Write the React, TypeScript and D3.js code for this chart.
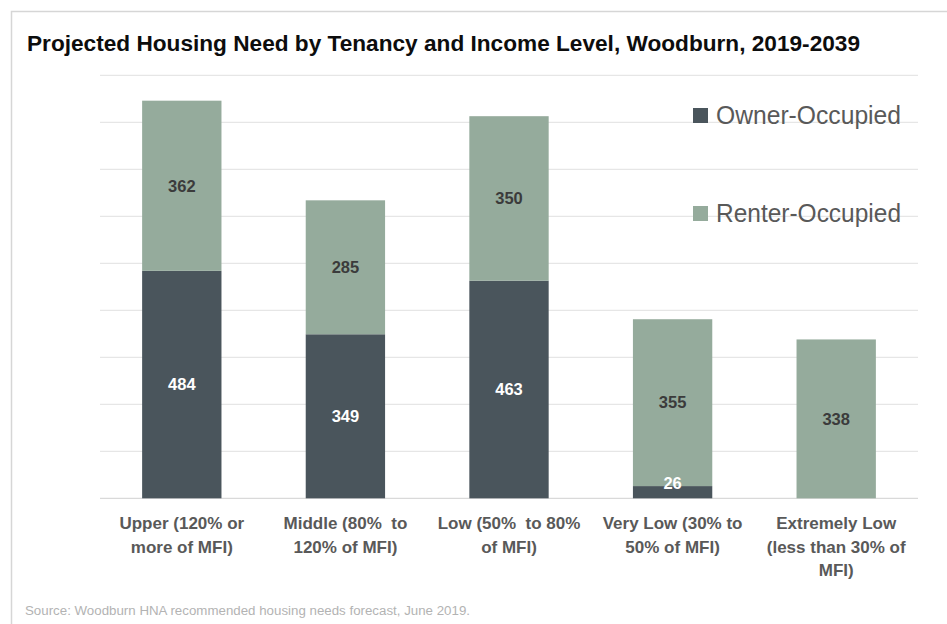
import React from "react";
import * as d3 from "d3";

const categories: string[][] = [
  ["Upper (120% or", "more of MFI)"],
  ["Middle (80%  to", "120% of MFI)"],
  ["Low (50%  to 80%", "of MFI)"],
  ["Very Low (30% to", "50% of MFI)"],
  ["Extremely Low", "(less than 30% of", "MFI)"],
];
const ownerValues = [484, 349, 463, 26, 0];
const renterValues = [362, 285, 350, 355, 338];
const seriesNames = ["Owner-Occupied", "Renter-Occupied"];
const gridTicks = [0, 100, 200, 300, 400, 500, 600, 700, 800, 900];

const W = 947;
const H = 624;
const ownerColor = "#4a555c";
const renterColor = "#95ab9c";
const FONT = "'Liberation Sans', Arial, sans-serif";

export default function App() {
  const x = d3
    .scaleBand<number>()
    .domain(categories.map((_, i) => i))
    .range([100, 918])
    .paddingInner(0.515)
    .paddingOuter(0.2575);
  const y = d3.scaleLinear().domain([0, 900]).range([498.3, 75.3]);

  const data = categories.map((c, i) => ({ i, owner: ownerValues[i], renter: renterValues[i] }));
  const stack = d3.stack<any>().keys(["owner", "renter"])(data);
  const colors = [ownerColor, renterColor];
  const labelColors = ["#ffffff", "#3b3b3b"];

  return (
    <svg width={W} height={H} style={{ position: "absolute", left: 0, top: 0, background: "#fff" }}>
      <rect x={0} y={0} width={W} height={H} fill="#fff" />
      <path d={`M11.5,${H} V11.5 H${W}`} fill="none" stroke="#d6d6d6" strokeWidth={1.5} />
      <text x={27} y={51} fontFamily={FONT} fontWeight="bold" fontSize={22} fill="#0d0d0d"
        textLength={833} lengthAdjust="spacingAndGlyphs">
        Projected Housing Need by Tenancy and Income Level, Woodburn, 2019-2039
      </text>
      {gridTicks.map((t) => (
        <line key={t} x1={100} x2={918} y1={y(t)} y2={y(t)} stroke={t === 0 ? "#d9d9d9" : "#e6e6e6"} strokeWidth={1.3} />
      ))}
      {stack.map((s, si) => (
        <g key={si}>
          {s.map((d, di) => {
            const h = y(d[0]) - y(d[1]);
            if (h <= 0) return null;
            return (
              <rect key={di} x={x(di)} width={x.bandwidth()} y={y(d[1])} height={h} fill={colors[si]} />
            );
          })}
        </g>
      ))}
      {stack.map((s, si) => (
        <g key={"l" + si}>
          {s.map((d, di) => {
            const v = d[1] - d[0];
            if (v <= 0) return null;
            const mid = (y(d[0]) + y(d[1])) / 2;
            const cy = Math.min(mid, y(d[0]) - 15);
            return (
              <text key={di} x={(x(di) as number) + x.bandwidth() / 2} y={cy} dy="0.35em" textAnchor="middle"
                fontFamily={FONT} fontWeight="bold" fontSize={16.5} fill={labelColors[si]}>
                {v}
              </text>
            );
          })}
        </g>
      ))}
      {categories.map((lines, i) => (
        <text key={i} fontFamily={FONT} fontWeight="bold" fontSize={17} fill="#595959" textAnchor="middle"
          style={{ whiteSpace: "pre" }}>
          {lines.map((ln, li) => (
            <tspan key={li} x={(x(i) as number) + x.bandwidth() / 2} y={529 + li * 23.5}>
              {ln}
            </tspan>
          ))}
        </text>
      ))}
      {seriesNames.map((n, i) => (
        <g key={n} transform={`translate(693,${108 + i * 98})`}>
          <rect x={0} y={0} width={15} height={15} fill={colors[i]} />
          <text x={23} y={16} fontFamily={FONT} fontSize={26} fill="#595959" textLength={185} lengthAdjust="spacingAndGlyphs">
            {n}
          </text>
        </g>
      ))}
      <text x={25} y={615} fontFamily={FONT} fontSize={12} fill="#b3b3b3" textLength={445} lengthAdjust="spacingAndGlyphs">
        Source: Woodburn HNA recommended housing needs forecast, June 2019.
      </text>
    </svg>
  );
}
